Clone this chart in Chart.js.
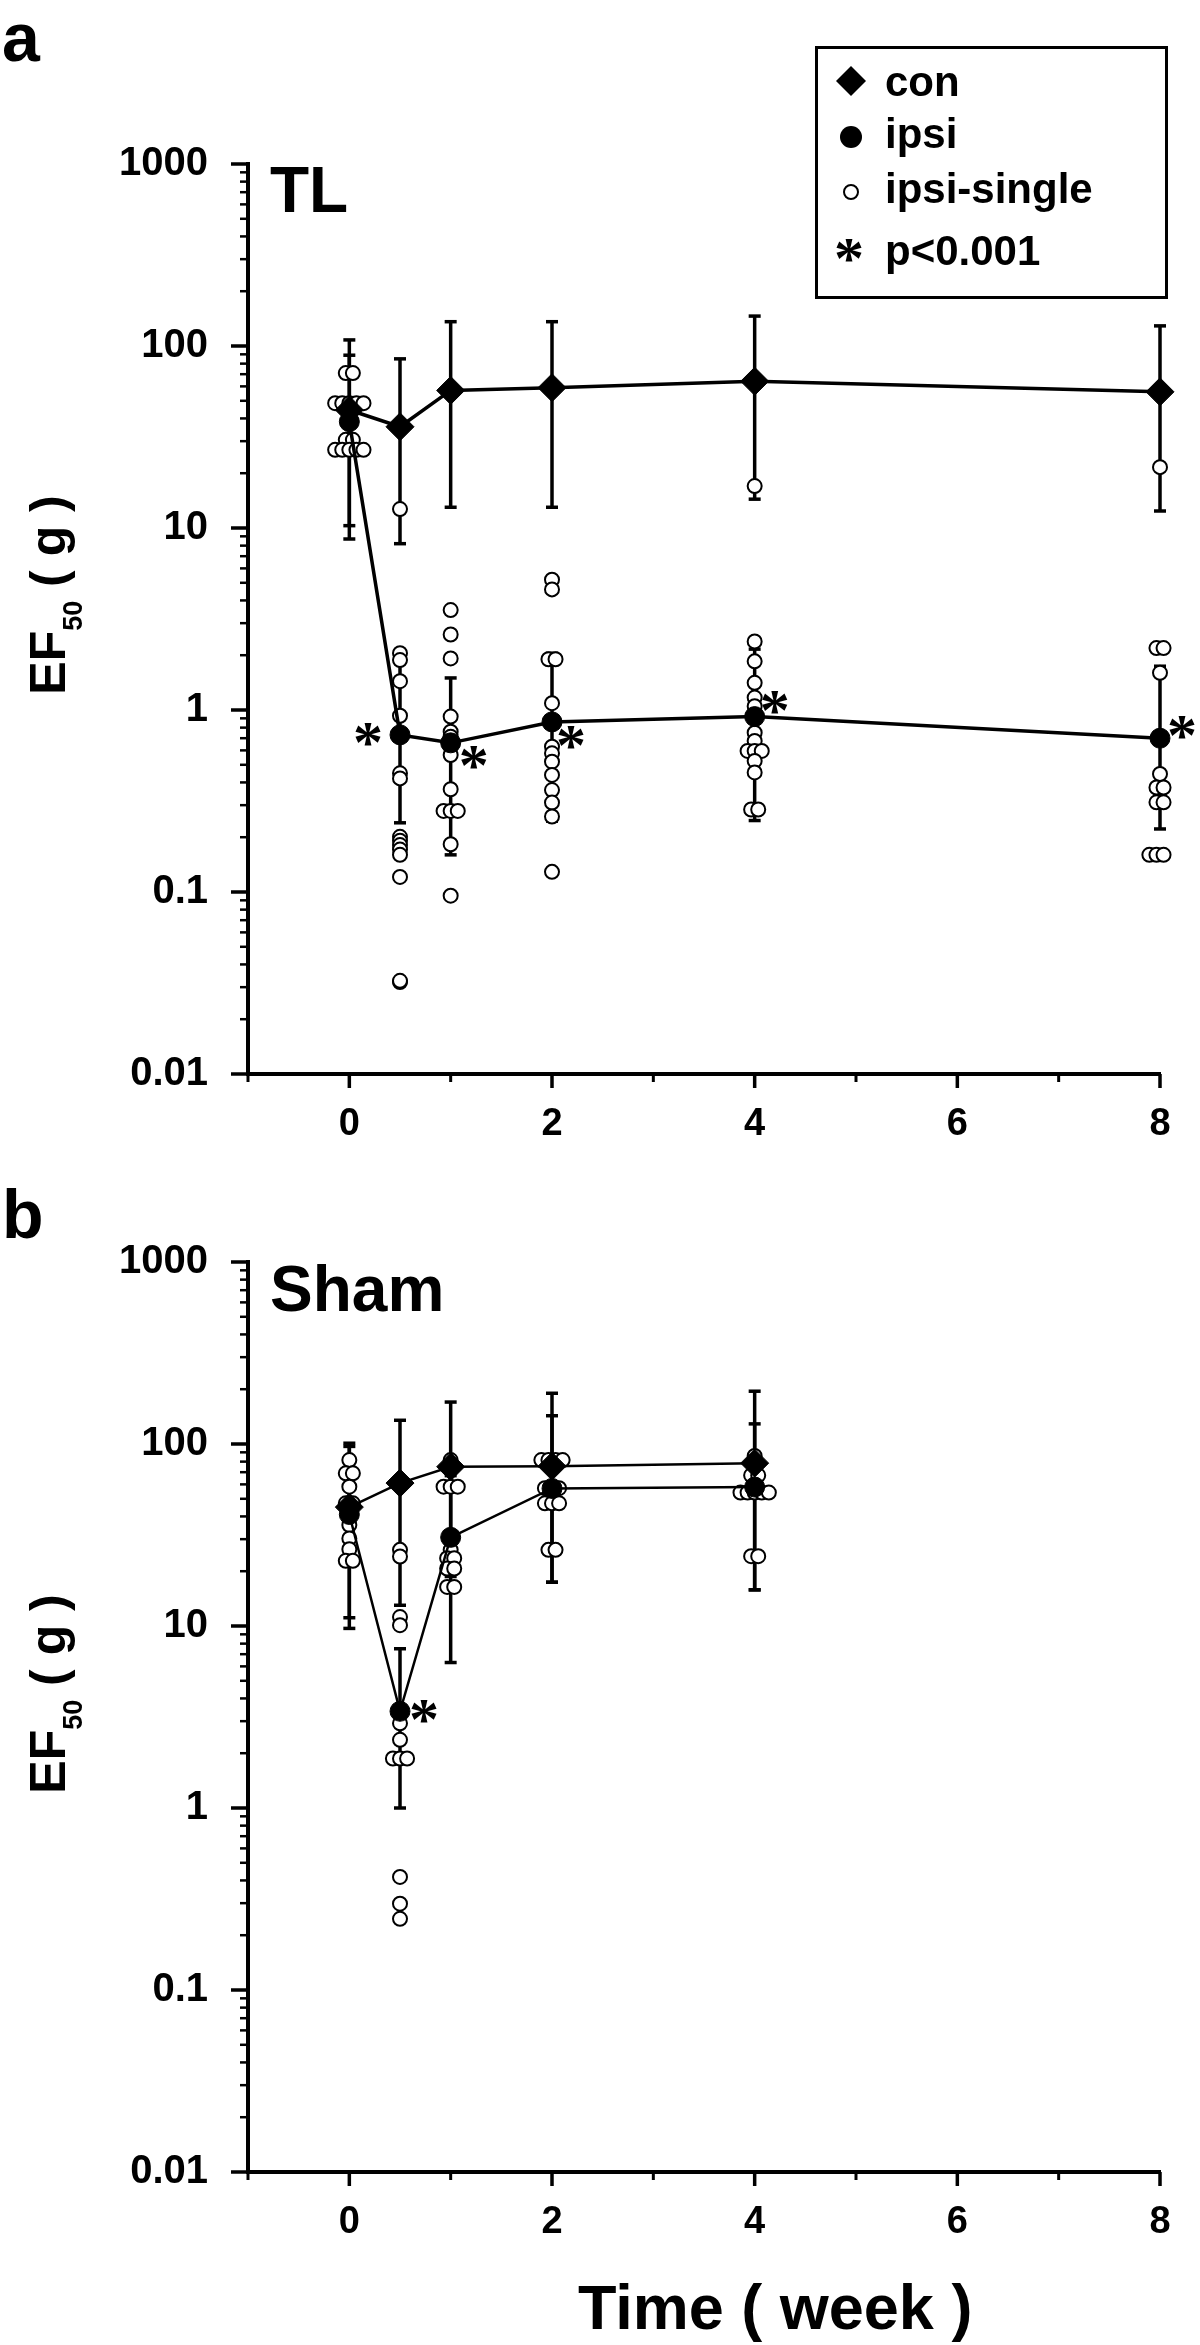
<!DOCTYPE html>
<html>
<head>
<meta charset="utf-8">
<script src="https://cdn.jsdelivr.net/npm/chart.js@4.4.0/dist/chart.umd.min.js"></script>
<style>
  html, body { margin: 0; padding: 0; background: #fff; }
  #panelA { position: absolute; left: 0; top: 0; width: 1200px; height: 1170px; }
  #panelB { position: absolute; left: 0; top: 1170px; width: 1200px; height: 1175px; }
</style>
</head>
<body>
<div id="panelA"><canvas id="chartA" width="1200" height="1170"></canvas></div>
<div id="panelB"><canvas id="chartB" width="1200" height="1175"></canvas></div>
<script>
const FONT = '"Liberation Sans", Arial, Helvetica, sans-serif';

// axes
const xTicks = [-1, 0, 1, 2, 3, 4, 5, 6, 7, 8];
const xTickLabels = ['', '0', '', '2', '', '4', '', '6', '', '8'];
const yDecades = [0.01, 0.1, 1, 10, 100, 1000];
const yTickLabels = ['0.01', '0.1', '1', '10', '100', '1000'];

// panel a: TL
const weeksA = [0, 0.5, 1, 2, 4, 8];
const conA = [44.5, 36, 57, 59, 64, 56];
const conUpA = [108, 85, 136, 136, 146, 129];
const conLoA = [8.7, 8.2, 13, 13, 14.4, 12.4];
const ipsiA = [38.4, 0.73, 0.66, 0.86, 0.92, 0.70];
const ipsiUpA = [89, 1.9, 1.5, 2.05, 2.16, 1.74];
const ipsiLoA = [10.3, 0.24, 0.16, 0.245, 0.247, 0.222];
const singlesA = [
  [71, 71, 48.5, 48.5, 48.5, 48.5, 48.5, 30.5, 30.5, 26.9, 26.9, 26.9, 26.9, 26.9],
  [12.7, 2.05, 1.88, 1.44, 0.93, 0.449, 0.421, 0.201, 0.191, 0.181, 0.171, 0.16, 0.121, 0.032, 0.0325],
  [3.54, 2.6, 1.92, 0.92, 0.76, 0.714, 0.629, 0.566, 0.367, 0.279, 0.279, 0.279, 0.183, 0.0955],
  [5.2, 4.6, 1.9, 1.9, 1.09, 0.629, 0.578, 0.52, 0.44, 0.363, 0.31, 0.26, 0.129],
  [17, 2.38, 1.85, 1.41, 1.17, 1.05, 0.75, 0.676, 0.596, 0.596, 0.596, 0.525, 0.454, 0.284, 0.284],
  [21.6, 2.19, 2.19, 1.6, 0.445, 0.375, 0.375, 0.311, 0.311, 0.16, 0.16, 0.16, 0.16]
];
const starWeeksA = [0.5, 1, 2, 4, 8];

// panel b: Sham
const weeksB = [0, 0.5, 1, 2, 4];
const conB = [45, 61, 75, 75.5, 78.5];
const conUpB = [101, 135, 170, 190, 195];
const conLoB = [9.7, 13, 18.7, 17.4, 15.8];
const ipsiB = [41, 3.4, 30.7, 57, 58];
const ipsiUpB = [97, 7.5, 67, 143, 129];
const ipsiLoB = [11.1, 1.0, 6.3, 17.4, 15.8];
const singlesB = [
  [81.6, 69, 69, 58.3, 47.2, 47.2, 35.9, 30.3, 26.4, 22.8, 22.8],
  [26.2, 24.1, 11.2, 10.1, 2.92, 2.37, 1.87, 1.87, 1.87, 0.418, 0.298, 0.246],
  [81.6, 58.3, 58.3, 58.3, 26.2, 23.6, 23.6, 20.7, 20.7, 16.4, 16.4],
  [81.6, 81.6, 81.6, 81.6, 57.2, 57.2, 57.2, 47.2, 47.2, 47.2, 26.2, 26.2],
  [85.9, 67.3, 67.3, 54.1, 54.1, 54.1, 54.1, 54.1, 24.2, 24.2]
];
const starWeeksB = [0.5];

const legendLabels = ['con', 'ipsi', 'ipsi-single', 'p<0.001'];

// star placement next to the ipsi mean, in pixels
const starDxA = [-30, 25, 21, 22, 24];
const starDyA = [0, 15, 16, -14, -11];
const starDxB = [26];
const starDyB = [0];

// equal values at the same week are set side by side
function spread(weeks, groups, step) {
  const pts = [];
  weeks.forEach((w, i) => {
    const vals = groups[i];
    const seen = {};
    vals.forEach(v => {
      const n = vals.filter(u => u === v).length;
      const k = seen[v] || 0;
      seen[v] = k + 1;
      pts.push({ x: w + (k - (n - 1) / 2) * step, y: v });
    });
  });
  return pts;
}

function seg(ctx, x1, y1, x2, y2) {
  ctx.beginPath(); ctx.moveTo(x1, y1); ctx.lineTo(x2, y2); ctx.stroke();
}

function drawStar(ctx, cx, cy, size) {
  ctx.save();
  ctx.font = 'bold ' + size + 'px "Liberation Serif", "Times New Roman", serif';
  ctx.fillStyle = '#000';
  ctx.textAlign = 'left';
  ctx.textBaseline = 'alphabetic';
  const m = ctx.measureText('*');
  const gx = cx - (m.actualBoundingBoxRight - m.actualBoundingBoxLeft) / 2 + m.actualBoundingBoxLeft;
  const gy = cy + (m.actualBoundingBoxAscent - m.actualBoundingBoxDescent) / 2;
  ctx.fillText('*', gx, gy);
  ctx.restore();
}

function drawYTitle(ctx, cx, cy) {
  ctx.save();
  ctx.translate(cx, cy);
  ctx.rotate(-Math.PI / 2);
  ctx.fillStyle = '#000';
  ctx.textBaseline = 'alphabetic';
  ctx.textAlign = 'left';
  const big = 'bold 50px ' + FONT;
  const small = 'bold 27px ' + FONT;
  ctx.font = big;
  const wEF = ctx.measureText('EF').width;
  const wRest = ctx.measureText(' ( g )').width;
  ctx.font = small;
  const wSub = ctx.measureText('50').width;
  let x = -(wEF + wSub + wRest) / 2;
  ctx.font = big; ctx.fillText('EF', x, 0); x += wEF;
  ctx.font = small; ctx.fillText('50', x, 17); x += wSub;
  ctx.font = big; ctx.fillText(' ( g )', x, 0);
  ctx.restore();
}

function makeChart(id, cfg) {
  const canvas = document.getElementById(id);
  const H = canvas.height;

  const errorBars = {
    id: 'errorBars',
    beforeDatasetsDraw(chart) {
      const { ctx, scales: { x, y } } = chart;
      ctx.save();
      ctx.strokeStyle = '#000';
      [[cfg.conUp, cfg.conLo], [cfg.ipsiUp, cfg.ipsiLo]].forEach(([up, lo]) => {
        cfg.weeks.forEach((w, i) => {
          const px = x.getPixelForValue(w);
          const pu = y.getPixelForValue(up[i]);
          const pl = y.getPixelForValue(lo[i]);
          ctx.lineWidth = 3.5; seg(ctx, px, pu, px, pl);
          seg(ctx, px - 6, pu, px + 6, pu); seg(ctx, px - 6, pl, px + 6, pl);
        });
      });
      ctx.restore();
    }
  };

  const decorations = {
    id: 'decorations',
    afterDraw(chart) {
      const { ctx, chartArea: a, scales: { x, y } } = chart;
      ctx.save();
      ctx.strokeStyle = '#000';
      // tick marks
      yDecades.forEach((d, i) => {
        ctx.lineWidth = 3.5;
        const py = y.getPixelForValue(d);
        seg(ctx, a.left - 17, py, a.left, py);
        if (i < yDecades.length - 1) {
          ctx.lineWidth = 2.5;
          for (let m = 2; m <= 9; m++) {
            const pm = y.getPixelForValue(d * m);
            seg(ctx, a.left - 8, pm, a.left, pm);
          }
        }
      });
      xTicks.forEach((t, i) => {
        const px = x.getPixelForValue(t);
        const major = xTickLabels[i] !== '';
        ctx.lineWidth = major ? 3.5 : 3;
        seg(ctx, px, a.bottom, px, a.bottom + (major ? 14 : 8));
      });
      // significance stars
      cfg.starWeeks.forEach((w, i) => {
        const idx = cfg.weeks.indexOf(w);
        const px = x.getPixelForValue(w) + cfg.starDx[i];
        const py = y.getPixelForValue(cfg.ipsi[idx]) + cfg.starDy[i];
        drawStar(ctx, px, py, 60);
      });
      // texts
      ctx.fillStyle = '#000';
      ctx.textAlign = 'left';
      ctx.textBaseline = 'alphabetic';
      ctx.font = 'bold 68px ' + FONT;
      ctx.fillText(cfg.letter, 2, cfg.letterBase);
      ctx.font = 'bold 64px ' + FONT;
      ctx.fillText(cfg.title, 270, cfg.titleBase);
      drawYTitle(ctx, 65, cfg.yTitleCenter);
      if (cfg.xTitle) {
        ctx.font = 'bold 63px ' + FONT;
        ctx.textAlign = 'center';
        ctx.fillText(cfg.xTitle, a.left + 0.578 * (a.right - a.left), cfg.xTitleBase);
      }
      if (cfg.legend) {
        ctx.lineWidth = 3;
        ctx.strokeRect(816.5, 47.5, 350, 250);
        const mx = 851;
        const rows = [81, 137, 192, 250];
        const bases = [96, 148, 203, 265];
        // diamond
        ctx.beginPath();
        ctx.moveTo(mx, rows[0] - 15); ctx.lineTo(mx + 15, rows[0]);
        ctx.lineTo(mx, rows[0] + 15); ctx.lineTo(mx - 15, rows[0]);
        ctx.closePath(); ctx.fill();
        // filled circle
        ctx.beginPath(); ctx.arc(mx, rows[1], 11, 0, Math.PI * 2); ctx.fill();
        // open circle
        ctx.lineWidth = 2;
        ctx.beginPath(); ctx.arc(mx, rows[2], 7, 0, Math.PI * 2); ctx.stroke();
        drawStar(ctx, mx, rows[3], 60);
        ctx.font = 'bold 42px ' + FONT;
        ctx.textAlign = 'left';
        legendLabels.forEach((t, i) => ctx.fillText(t, 885, bases[i]));
      }
      ctx.restore();
    }
  };

  return new Chart(canvas.getContext('2d'), {
    type: 'scatter',
    data: {
      datasets: [
        {
          label: 'con',
          data: cfg.weeks.map((w, i) => ({ x: w, y: cfg.con[i] })),
          showLine: true,
          borderColor: '#000',
          borderWidth: cfg.lineWidth,
          pointStyle: 'rectRot',
          pointRadius: 14,
          pointBackgroundColor: '#000',
          pointBorderColor: '#000',
          pointBorderWidth: 1,
          clip: false
        },
        {
          label: 'ipsi',
          data: cfg.weeks.map((w, i) => ({ x: w, y: cfg.ipsi[i] })),
          showLine: true,
          borderColor: '#000',
          borderWidth: cfg.lineWidth,
          pointStyle: 'circle',
          pointRadius: 10,
          pointBackgroundColor: '#000',
          pointBorderColor: '#000',
          pointBorderWidth: 1,
          clip: false
        },
        {
          label: 'ipsi-single',
          data: spread(cfg.weeks, cfg.singles, 0.07),
          showLine: false,
          pointStyle: 'circle',
          pointRadius: 7,
          pointBackgroundColor: '#fff',
          pointBorderColor: '#000',
          pointBorderWidth: 2,
          clip: false
        }
      ]
    },
    options: {
      responsive: false,
      animation: false,
      events: [],
      layout: { padding: { top: cfg.top, right: 40, bottom: 0, left: 0 } },
      plugins: { legend: { display: false }, tooltip: { enabled: false } },
      scales: {
        x: {
          type: 'linear',
          min: -1,
          max: 8,
          afterBuildTicks: s => { s.ticks = xTicks.map(v => ({ value: v })); },
          afterFit: s => { s.height = H - cfg.bottom; s.paddingLeft = 0; s.paddingRight = 0; },
          ticks: {
            callback: v => xTickLabels[xTicks.indexOf(v)],
            font: { family: FONT, size: 38, weight: 'bold' },
            color: '#000',
            padding: 20,
            maxRotation: 0,
            autoSkip: false
          },
          grid: { display: false },
          border: { display: true, color: '#000', width: 4 }
        },
        y: {
          type: 'logarithmic',
          min: 0.01,
          max: 1000,
          afterBuildTicks: s => { s.ticks = yDecades.map(v => ({ value: v })); },
          afterFit: s => { s.width = 248; s.paddingTop = 0; s.paddingBottom = 0; },
          ticks: {
            callback: v => yTickLabels[yDecades.indexOf(v)],
            font: { family: FONT, size: 40, weight: 'bold' },
            color: '#000',
            padding: 32,
            autoSkip: false
          },
          grid: { display: false },
          border: { display: true, color: '#000', width: 4 }
        }
      }
    },
    plugins: [errorBars, decorations]
  });
}

makeChart('chartA', {
  weeks: weeksA, con: conA, conUp: conUpA, conLo: conLoA,
  ipsi: ipsiA, ipsiUp: ipsiUpA, ipsiLo: ipsiLoA, singles: singlesA,
  starWeeks: starWeeksA, starDx: starDxA, starDy: starDyA,
  lineWidth: 3.5, top: 164, bottom: 1074,
  letter: 'a', letterBase: 61, title: 'TL', titleBase: 212,
  yTitleCenter: 595, legend: true
});

makeChart('chartB', {
  weeks: weeksB, con: conB, conUp: conUpB, conLo: conLoB,
  ipsi: ipsiB, ipsiUp: ipsiUpB, ipsiLo: ipsiLoB, singles: singlesB,
  starWeeks: starWeeksB, starDx: starDxB, starDy: starDyB,
  lineWidth: 2.5, top: 92, bottom: 1002,
  letter: 'b', letterBase: 68, title: 'Sham', titleBase: 141,
  yTitleCenter: 524, legend: false,
  xTitle: 'Time ( week )', xTitleBase: 1159
});
</script>
</body>
</html>
